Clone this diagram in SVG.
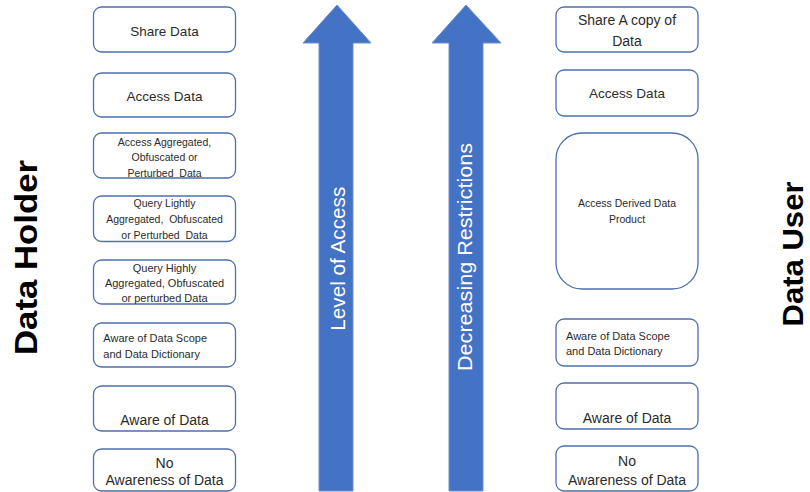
<svg xmlns="http://www.w3.org/2000/svg" width="810" height="492" viewBox="0 0 810 492">
<style>
text{white-space:pre}
.box{fill:#fff;stroke:#4F6FAD;stroke-width:1.3}
.t{font-family:"Liberation Sans",Arial,sans-serif;fill:#2b2b2b;text-anchor:middle}
.tl{font-family:"Liberation Sans",Arial,sans-serif;fill:#2b2b2b;text-anchor:start}
.big{font-size:13.5px}
.med{font-size:14px}
.sm{font-size:10.5px}
.sm11{font-size:11px}
.side{font-family:"Liberation Sans",Arial,sans-serif;font-weight:bold;font-size:31px;fill:#000;text-anchor:middle}
.arr{fill:#4472C4;stroke:#6E8FCB;stroke-width:1}
.at{font-family:"Liberation Sans",Arial,sans-serif;font-size:19.5px;fill:#fff;text-anchor:middle}
</style>
<rect width="810" height="492" fill="#fff"/>
<g id="connectors">
<g id="arrow-level">
<path class="arr" d="M337,5 L371,43 L353,43 L353,491 L319,491 L319,43 L303,43 Z"/>
<text class="at" transform="translate(345,258.7) rotate(-90)" textLength="144" lengthAdjust="spacingAndGlyphs">Level of Access</text>
</g>
<g id="arrow-restrictions">
<path class="arr" d="M466,5 L501,43 L483,43 L483,491 L449,491 L449,43 L432,43 Z"/>
<text class="at" transform="translate(471.5,257) rotate(-90)" textLength="228" lengthAdjust="spacingAndGlyphs">Decreasing Restrictions</text>
</g>
</g>
<g id="label-holder"><text class="side" transform="translate(37,257.5) rotate(-90)" textLength="195" lengthAdjust="spacingAndGlyphs">Data Holder</text></g>
<g id="label-user"><text class="side" style="font-size:30px" transform="translate(802.5,254) rotate(-90)" textLength="145" lengthAdjust="spacingAndGlyphs">Data User</text></g>

<g id="h-share"><rect class="box" x="93.5" y="7" width="142" height="45" rx="8"/><text class="t big" x="164.5" y="35.5">Share Data</text></g>
<g id="h-access"><rect class="box" x="93.5" y="73" width="142" height="44" rx="8"/><text class="t big" x="164.5" y="100.5">Access Data</text></g>
<g id="h-agg"><rect class="box" x="93.5" y="133" width="142" height="45" rx="8"/>
<text class="t sm" x="164.5" y="145.5">Access Aggregated,</text>
<text class="t sm" x="164.5" y="161">Obfuscated or</text>
<text class="t sm" x="164.5" y="176.5">Perturbed  Data</text></g>
<g id="h-light"><rect class="box" x="93.5" y="196" width="142" height="45.5" rx="8"/>
<text class="t sm" x="164.5" y="207.3">Query Lightly</text>
<text class="t sm" x="164.5" y="223.3">Aggregated,  Obfuscated</text>
<text class="t sm" x="164.5" y="239.3">or Perturbed  Data</text></g>
<g id="h-high"><rect class="box" x="93.5" y="260" width="142" height="44" rx="8"/>
<text class="t sm11" x="164.5" y="272.3">Query Highly</text>
<text class="t sm11" x="164.5" y="287.3">Aggregated, Obfuscated</text>
<text class="t sm11" x="164.5" y="302.3">or perturbed Data</text></g>
<g id="h-scope"><rect class="box" x="93.5" y="323" width="142" height="44" rx="8"/>
<text class="tl sm11" x="103.3" y="342.3">Aware of Data Scope</text>
<text class="tl sm11" x="103.3" y="358.3">and Data Dictionary</text></g>
<g id="h-aware"><rect class="box" x="93.5" y="386" width="142" height="45" rx="8"/><text class="t med" x="164.5" y="425">Aware of Data</text></g>
<g id="h-no"><rect class="box" x="93.5" y="449" width="142" height="42" rx="8"/>
<text class="t med" x="164.5" y="468.3">No</text>
<text class="t med" x="164.5" y="485">Awareness of Data</text></g>

<g id="u-share"><rect class="box" x="556" y="7" width="142" height="45" rx="8"/>
<text class="t med" x="627" y="25">Share A copy of</text>
<text class="t med" x="627" y="46">Data</text></g>
<g id="u-access"><rect class="box" x="556" y="70" width="142" height="46" rx="8"/><text class="t big" x="627" y="98.3">Access Data</text></g>
<g id="u-derived"><rect class="box" x="556" y="133" width="142" height="156" rx="26"/>
<text class="t sm" x="627" y="207">Access Derived Data</text>
<text class="t sm" x="627" y="222.7">Product</text></g>
<g id="u-scope"><rect class="box" x="556" y="319" width="142" height="47" rx="8"/>
<text class="tl sm11" x="566" y="340">Aware of Data Scope</text>
<text class="tl sm11" x="566" y="355">and Data Dictionary</text></g>
<g id="u-aware"><rect class="box" x="556" y="383" width="142" height="46" rx="8"/><text class="t med" x="627" y="423.3">Aware of Data</text></g>
<g id="u-no"><rect class="box" x="556" y="446" width="142" height="45" rx="8"/>
<text class="t med" x="627" y="465.7">No</text>
<text class="t med" x="627" y="485">Awareness of Data</text></g>
</svg>
